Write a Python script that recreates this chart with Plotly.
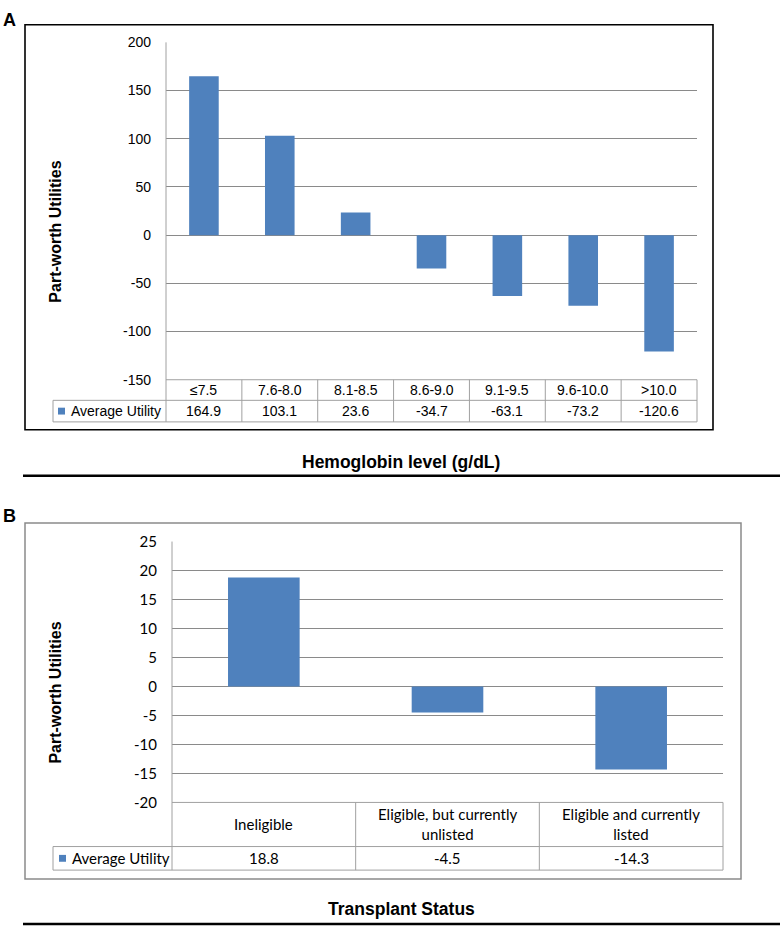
import plotly.graph_objects as go

# ---------------- data ----------------
hb_categories = ["≤7.5", "7.6-8.0", "8.1-8.5", "8.6-9.0", "9.1-9.5", "9.6-10.0", ">10.0"]
hb_utility = [164.9, 103.1, 23.6, -34.7, -63.1, -73.2, -120.6]
hb_ticks = [200, 150, 100, 50, 0, -50, -100, -150]
hb_ticktext = ["200", "150", "100", "50", "0", "-50", "-100", "-150"]

tx_categories = ["Ineligible", "Eligible, but currently unlisted", "Eligible and currently listed"]
tx_labels = ["Ineligible", "Eligible, but currently<br>unlisted", "Eligible and currently<br>listed"]
tx_utility = [18.8, -4.5, -14.3]
tx_ticks = [25, 20, 15, 10, 5, 0, -5, -10, -15, -20]
tx_ticktext = ["25", "20", "15", "10", "5", "0", "-5", "-10", "-15", "-20"]

series_name = "Average Utility"
y_title = "Part-worth Utilities"
title_a = "Hemoglobin level (g/dL)"
title_b = "Transplant Status"

# ---------------- layout helpers ----------------
W, H = 782, 934
def px(x):
    return x / W
def py(y):
    return 1 - y / H

BAR = "#4f81bd"
GRID = "#8a8a8a"
TBL = "#a0a0a0"
ARIAL = "Liberation Sans, Arial, sans-serif"
CAL = "Lato, Open Sans, sans-serif"

fig = go.Figure()
fig.add_trace(go.Bar(x=hb_categories, y=hb_utility, marker=dict(color=BAR, line=dict(width=0)),
                     xaxis="x", yaxis="y", showlegend=False, hoverinfo="x+y"))
fig.add_trace(go.Bar(x=tx_categories, y=tx_utility, marker=dict(color=BAR, line=dict(width=0)),
                     xaxis="x2", yaxis="y2", showlegend=False, hoverinfo="x+y"))

shapes = []
annotations = []

def line(x0, y0, x1, y1, color=TBL, width=1, xref="paper"):
    shapes.append(dict(type="line", xref=xref, yref="paper", x0=x0, y0=y0, x1=x1, y1=y1,
                       line=dict(color=color, width=width), layer="above"))

def text(x, y, s, font, xref="paper", xanchor="center", angle=0):
    annotations.append(dict(x=x, y=y, xref=xref, yref="paper", text=s, showarrow=False,
                            xanchor=xanchor, yanchor="middle", textangle=angle, font=font))

fA = dict(family=ARIAL, size=14, color="black")
fB = dict(family=CAL, size=15, color="black")
fT = dict(family=ARIAL, size=17.5, color="black")
fY = dict(family=ARIAL, size=16, color="black")

# ---------- panel A ----------
A_left, A_right, A_top, A_bot = 166, 697, 33, 377
A_r1, A_r2 = 398, 420
legend_left = 53
shapes.append(dict(type="rect", xref="paper", yref="paper", x0=px(25), x1=px(713), y0=py(15), y1=py(428),
                   line=dict(color="black", width=1.6), layer="below"))
line(px(A_left), py(A_bot), px(A_right), py(A_bot))
line(px(legend_left), py(A_r1), px(A_right), py(A_r1))
line(px(legend_left), py(A_r2), px(A_right), py(A_r2))
line(px(legend_left), py(A_r1), px(legend_left), py(A_r2))
line(px(A_left), py(A_top), px(A_left), py(A_r2))
line(px(A_right), py(A_bot), px(A_right), py(A_r2))
for i in range(len(hb_categories) - 1):
    line(i + 0.5, py(A_bot), i + 0.5, py(A_r2), xref="x")
for c, v in zip(hb_categories, hb_utility):
    text(c, py((A_bot + A_r1) / 2), c, fA, xref="x")
    text(c, py((A_r1 + A_r2) / 2), f"{v:.1f}", fA, xref="x")
shapes.append(dict(type="rect", xref="paper", yref="paper", x0=px(58), x1=px(65), y0=py(405.5), y1=py(412.5),
                   fillcolor=BAR, line=dict(width=0)))
text(px(68.5), py((A_r1 + A_r2) / 2), series_name, fA, xanchor="left")
text(px(56), py(226), f"<b>{y_title}</b>", fY, angle=-90)
text(px(401), py(461), f"<b>{title_a}</b>", fT)
text(px(1), py(10), "<b>A</b>", dict(family=ARIAL, size=18, color="black"), xanchor="left")
line(px(23), py(475), px(780), py(475), color="black", width=2.5)

# ---------- panel B ----------
B_left, B_right, B_top, B_bot = 172, 723, 542, 808
B_r1, B_r2 = 853, 877
shapes.append(dict(type="rect", xref="paper", yref="paper", x0=px(25), x1=px(741), y0=py(523), y1=py(886),
                   line=dict(color="#8a8a8a", width=1.5), layer="below"))
line(px(B_left), py(B_bot), px(B_right), py(B_bot))
line(px(legend_left), py(B_r1), px(B_right), py(B_r1))
line(px(legend_left), py(B_r2), px(B_right), py(B_r2))
line(px(legend_left), py(B_r1), px(legend_left), py(B_r2))
line(px(B_left), py(B_top), px(B_left), py(B_r2))
line(px(B_right), py(B_bot), px(B_right), py(B_r2))
for i in range(len(tx_categories) - 1):
    line(i + 0.5, py(B_bot), i + 0.5, py(B_r2), xref="x2")
for c, lab, v in zip(tx_categories, tx_labels, tx_utility):
    text(c, py((B_bot + B_r1) / 2), lab, fB, xref="x2")
    text(c, py((B_r1 + B_r2) / 2), f"{v:.1f}", fB, xref="x2")
shapes.append(dict(type="rect", xref="paper", yref="paper", x0=px(59), x1=px(66), y0=py(861.5), y1=py(868.5),
                   fillcolor=BAR, line=dict(width=0)))
text(px(70), py((B_r1 + B_r2) / 2), series_name, fB, xanchor="left")
text(px(56), py(696), f"<b>{y_title}</b>", fY, angle=-90)
text(px(401.5), py(917), f"<b>{title_b}</b>", fT)
text(px(1), py(516), "<b>B</b>", dict(family=ARIAL, size=18, color="black"), xanchor="left")
line(px(23), py(932), px(780), py(932), color="black", width=2.5)

fig.update_layout(
    width=W, height=H, margin=dict(l=0, r=0, t=0, b=0),
    paper_bgcolor="white", plot_bgcolor="white",
    bargap=0.61, showlegend=False,
    shapes=shapes, annotations=annotations,
    xaxis=dict(domain=[px(A_left), px(A_right)], anchor="y", showticklabels=False, showgrid=False,
               showline=False, zeroline=False, ticks=""),
    yaxis=dict(domain=[py(A_bot), py(A_top)], anchor="x", range=[-150, 200],
               tickvals=hb_ticks, ticktext=hb_ticktext,
               showgrid=True, gridcolor=GRID, gridwidth=1, zeroline=False, showline=False,
               ticks="", ticklabelstandoff=14, tickfont=fA),
    xaxis2=dict(domain=[px(B_left), px(B_right)], anchor="y2", showticklabels=False, showgrid=False,
                showline=False, zeroline=False, ticks=""),
    yaxis2=dict(domain=[py(B_bot), py(B_top)], anchor="x2", range=[-20, 25],
                tickvals=tx_ticks, ticktext=tx_ticktext,
                showgrid=True, gridcolor=GRID, gridwidth=1, zeroline=False, showline=False,
                ticks="", ticklabelstandoff=14, tickfont=fB),
)
fig.write_html("out.html", config={"displayModeBar": False},
               post_script="document.body.style.margin='0px';")
